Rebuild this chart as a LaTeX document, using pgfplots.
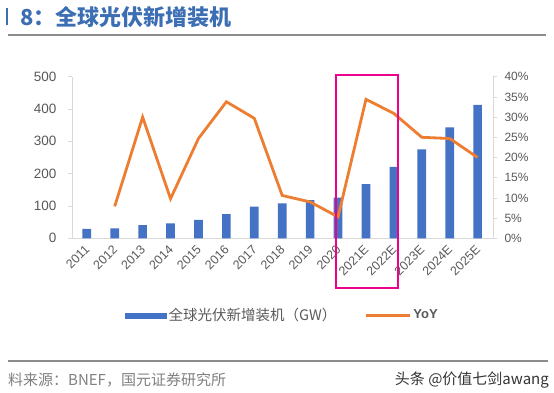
\documentclass[border=0pt]{standalone}
\usepackage{pgfplots}
\pgfplotsset{compat=1.18}
\usepackage{fontspec}
\setmainfont{Liberation Sans}
\newfontfamily\cjk{Noto Sans CJK SC}
\definecolor{barblue}{HTML}{4472C4}
\definecolor{lineorange}{HTML}{ED7D31}
\definecolor{axgray}{HTML}{D9D9D9}
\definecolor{labgray}{HTML}{595959}
\definecolor{titleblue}{HTML}{3C6EB4}
\definecolor{rulegray}{HTML}{8C8C8C}
\begin{document}
\begin{tikzpicture}
\path[use as bounding box] (0pt,0pt) rectangle (554pt,392pt);
% title (left edge of the cut-off first glyph shown as a bar)
\fill[titleblue] (5.5pt,367pt) rectangle (7.5pt,384pt);
\node[anchor=west, inner sep=0pt, text=titleblue, font=\fontsize{22}{22}\selectfont\cjk\bfseries] at (20pt,375pt) {8：全球光伏新增装机};
\draw[rulegray, line width=2pt] (8pt,357pt) -- (546pt,357pt);
% main axis (bars)
\begin{axis}[
  at={(72pt,153.7pt)}, anchor=south west,
  scale only axis, width=421pt, height=161.6pt,
  xmin=-0.53, xmax=14.55, ymin=0, ymax=500,
  axis y line*=left, axis x line*=bottom,
  axis line style={draw=axgray, line width=0.8pt, -},
  ytick={0,100,200,300,400,500},
  xtick={0,1,2,3,4,5,6,7,8,9,10,11,12,13,14},
  xticklabels={2011,2012,2013,2014,2015,2016,2017,2018,2019,2020,2021E,2022E,2023E,2024E,2025E},
  tick align=outside, major tick length=4pt,
  ytick style={draw=axgray, line width=0.8pt},
  xtick style={draw=none},
  /pgf/number format/assume math mode=true,
  yticklabel style={font=\fontsize{13.5}{13.5}\selectfont, text=labgray, xshift=-8pt},
  xticklabel style={font=\fontsize{12.5}{12.5}\selectfont, text=labgray, rotate=45, anchor=east, yshift=-4pt},
  clip=false,
]
\addplot[ybar, bar width=8.7pt, fill=barblue, draw=none] coordinates {
(0,29) (1,31) (2,41) (3,46) (4,57) (5,75) (6,98) (7,108) (8,118) (9,126) (10,168) (11,221) (12,275) (13,343) (14,413)
};
\end{axis}
% secondary axis (YoY)
\begin{axis}[
  at={(72pt,153.7pt)}, anchor=south west,
  scale only axis, width=421pt, height=161.6pt,
  xmin=-0.53, xmax=14.55, ymin=0, ymax=40,
  axis y line*=right, axis x line=none,
  axis line style={draw=axgray, line width=0.8pt, -},
  ytick={0,5,10,15,20,25,30,35,40},
  yticklabels={0\%,5\%,10\%,15\%,20\%,25\%,30\%,35\%,40\%},
  tick align=outside, major tick length=4pt,
  ytick style={draw=axgray, line width=0.8pt},
  yticklabel style={font=\fontsize{12}{12}\selectfont, text=labgray, anchor=west, xshift=4pt},
  legend style={at={(0.5,-0.476)}, anchor=center, draw=none, fill=none,
    font=\fontsize{14.5}{14.5}\selectfont, text=labgray,
    /tikz/every even column/.append style={column sep=26pt}},
  legend columns=2,
  clip=false,
]
\addlegendimage{legend image code/.code={\fill[barblue] (0pt,-2.5pt) rectangle (41pt,2.5pt);}}
\addlegendentry{\cjk 全球光伏新增装机（GW）}
\addplot[lineorange, line width=2.8pt, legend image code/.code={\draw[lineorange, line width=3pt] (0pt,0pt) -- (44pt,0pt);}] coordinates {
(1,7.9) (2,30.0) (3,9.8) (4,24.7) (5,33.8) (6,29.7) (7,10.6) (8,9.0) (9,5.3) (10,34.4) (11,30.9) (12,25.0) (13,24.7) (14,20.0)
};
\addlegendentry{\fontsize{13}{13}\selectfont\textbf{YoY}}
\end{axis}
% highlight box
\draw[magenta, line width=2pt] (335.7pt,104.3pt) rectangle (398.3pt,317pt);
% footer
\draw[rulegray, line width=2pt] (8pt,31pt) -- (548pt,31pt);
\node[anchor=west, inner sep=0pt, text=gray, font=\fontsize{15}{15}\selectfont\cjk] at (8pt,12pt) {料来源：BNEF，国元证券研究所};
\node[anchor=east, inner sep=0pt, text=black!80, font=\fontsize{15}{15}\selectfont\cjk] at (549pt,12pt) {头条 @价值七剑awang};
\end{tikzpicture}
\end{document}
